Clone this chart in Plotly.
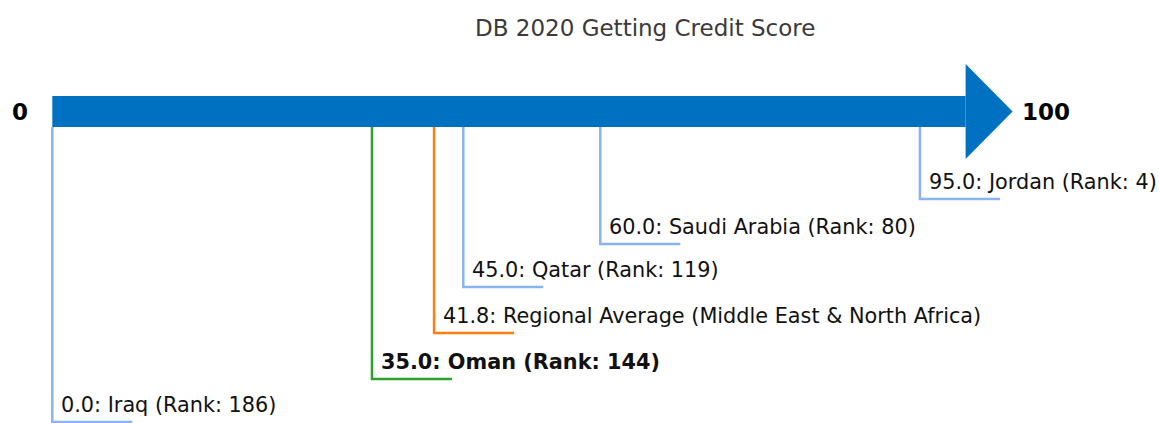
import plotly.graph_objects as go

# Data
names = ["Iraq", "Oman", "Regional Average (Middle East & North Africa)", "Qatar", "Saudi Arabia", "Jordan"]
scores = [0.0, 35.0, 41.8, 45.0, 60.0, 95.0]
ranks = [186, 144, None, 119, 80, 4]
kinds = ["peer", "focus", "avg", "peer", "peer", "peer"]
title = "DB 2020 Getting Credit Score"
scale_min, scale_max = 0, 100

# Layout (pixel-based vertical positions)
W, H = 1159, 423
x0_px, px_per_unit = 52.3, 9.133
levels = [422, 379, 333, 287, 244, 199]
bar_top, bar_bot = 96, 127
head_top, head_bot, head_len_px = 64, 159, 47
hook_px = 80

colors = {"peer": "#8ab4f0", "focus": "#2ca02c", "avg": "#ff7f0e"}
arrow_color = "#0070c0"
font = "DejaVu Sans"

def u(px):
    return px / px_per_unit

xmin = -x0_px / px_per_unit
xmax = (W - x0_px) / px_per_unit

fig = go.Figure()

# Arrow shaft and head
fig.add_shape(type="rect", x0=scale_min, x1=scale_max, y0=bar_top, y1=bar_bot,
              fillcolor=arrow_color, line_width=0, layer="below")
head_tip = scale_max + u(head_len_px)
fig.add_shape(type="path",
              path=f"M {scale_max},{head_top} L {head_tip},{(bar_top+bar_bot)/2} L {scale_max},{head_bot} Z",
              fillcolor=arrow_color, line_width=0, layer="below")

for n, s, r, k, lv in zip(names, scores, ranks, kinds, levels):
    c = colors[k]
    fig.add_trace(go.Scatter(x=[s, s, s + u(hook_px)], y=[bar_bot, lv, lv], mode="lines",
                             line=dict(color=c, width=2.5), hoverinfo="skip", showlegend=False))
    txt = f"{s:.1f}: {n}" + (f" (Rank: {r})" if r is not None else "")
    if k == "focus":
        txt = f"<b>{txt}</b>"
    fig.add_annotation(x=s + u(7), y=lv - 17.5, text=txt, showarrow=False,
                       xanchor="left", yanchor="middle",
                       font=dict(family=font, size=20.8, color="#111111"))

fig.add_annotation(x=scale_min - u(32), y=(bar_top + bar_bot) / 2, text=f"<b>{scale_min}</b>",
                   showarrow=False, xanchor="center", yanchor="middle",
                   font=dict(family=font, size=23, color="black"))
fig.add_annotation(x=head_tip + u(7), y=(bar_top + bar_bot) / 2, text=f"<b>{scale_max}</b>",
                   showarrow=False, xanchor="left", yanchor="middle",
                   font=dict(family=font, size=23, color="black"))

fig.add_annotation(x=(xmin + xmax) / 2 + u(65), y=28, text=title, showarrow=False,
                   xanchor="center", yanchor="middle",
                   font=dict(family=font, size=23, color="#3a3a3a"))

fig.update_layout(
    width=W, height=H, margin=dict(l=0, r=0, t=0, b=0),
    plot_bgcolor="white", paper_bgcolor="white",
    xaxis=dict(range=[xmin, xmax], visible=False, fixedrange=True),
    yaxis=dict(range=[H, 0], visible=False, fixedrange=True),
    showlegend=False,
)

fig.write_html("out.html")
